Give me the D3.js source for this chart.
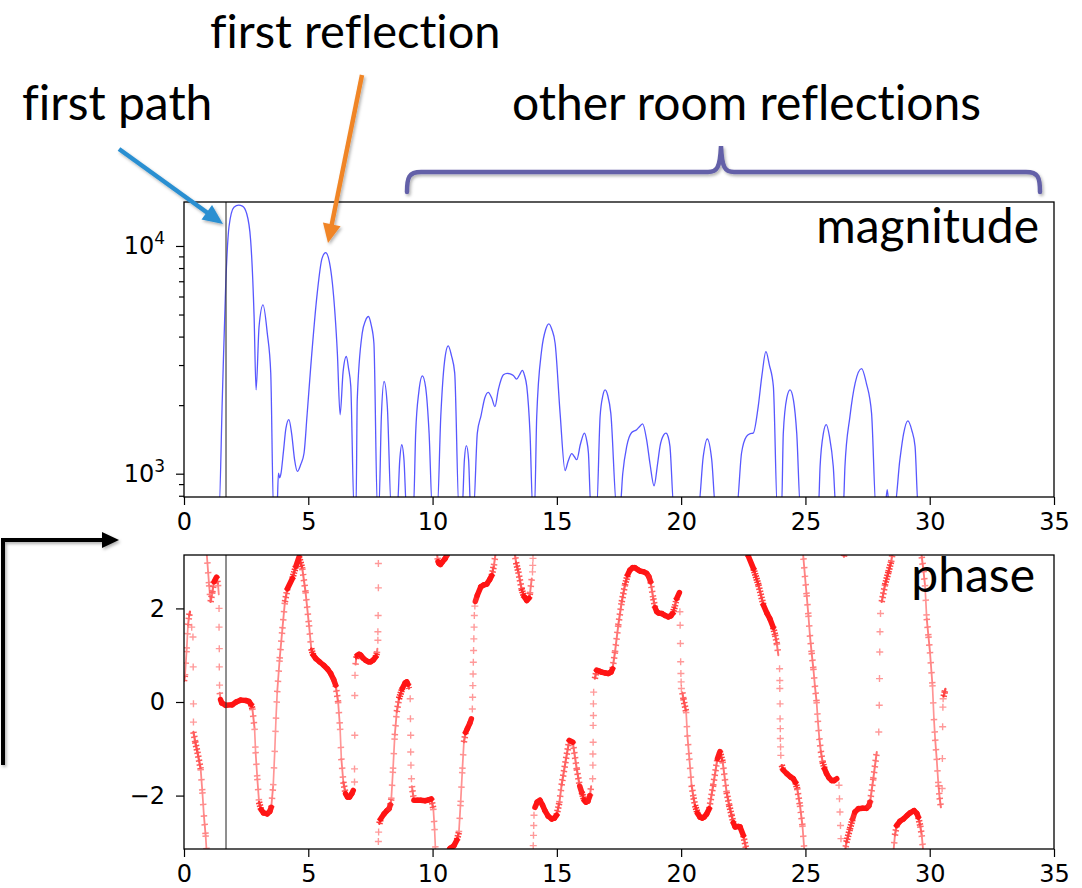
<!DOCTYPE html>
<html>
<head>
<meta charset="utf-8">
<script src="https://cdn.jsdelivr.net/npm/d3@7"></script>
<style>
  html, body { margin: 0; padding: 0; background: #fff; }
  svg { display: block; }
  .note { font-family: Lato, "Open Sans", sans-serif; fill: #000; font-variant-ligatures: none; font-feature-settings: "liga" 0; }
</style>
</head>
<body>
<svg id="chart" width="1082" height="888"></svg>
<script>
// ---- data -------------------------------------------------------------
// time axis ticks (both panels)
const timeTicks = [0, 5, 10, 15, 20, 25, 30, 35];
const magMajorTicks = [1e3, 1e4];
const magMinorTicks = [800, 900, 2000, 3000, 4000, 5000, 6000, 7000, 8000, 9000];
const phaseTicks = [-2, 0, 2];

// delay of the direct path (vertical marker)
const firstPathDelay = 1.69;

// |h(t)| samples: [time, magnitude]; 700 = below the visible floor
const magnitude = [
  [1.35,700],[1.41,700],[1.54,2110],[1.68,6850],[1.81,12150],[2.01,14790],[2.20,15100],[2.35,14970],
  [2.52,13900],[2.68,10630],[2.82,4900],[2.90,2333],[3.02,4430],[3.18,5510],[3.35,4140],[3.49,2770],
  [3.60,700],[3.74,700],[3.80,1005],[3.85,960],[3.90,1000],[4.00,1250],[4.10,1580],[4.22,1726],
  [4.33,1500],[4.45,1150],[4.56,1023],[4.70,1100],[4.83,1233],[4.95,1800],[5.10,2960],[5.36,6210],
  [5.55,8800],[5.70,9350],[5.85,8500],[5.97,6860],[6.17,3380],[6.28,1815],[6.40,2800],[6.53,3270],
  [6.62,2900],[6.71,2417],[6.84,700],[6.92,700],[6.97,2110],[7.17,4140],[7.30,4700],[7.42,4900],
  [7.53,4500],[7.64,3740],[7.78,700],[7.84,700],[7.94,1782],[8.05,2540],[8.18,1972],[8.34,700],
  [8.58,700],[8.68,1150],[8.76,1340],[8.85,1150],[8.95,700],[9.23,700],[9.32,1507],[9.45,2300],
  [9.59,2690],[9.72,2400],[9.86,1507],[9.99,700],[10.19,700],[10.33,1782],[10.48,3100],[10.63,3640],
  [10.76,3300],[10.89,2770],[11.06,700],[11.19,700],[11.28,1150],[11.36,1327],[11.45,1150],[11.53,700],
  [11.65,700],[11.80,1507],[11.95,1800],[12.10,2150],[12.24,2275],[12.38,2150],[12.51,1972],[12.65,2350],
  [12.85,2717],[13.00,2760],[13.12,2747],[13.25,2700],[13.38,2600],[13.50,2720],[13.61,2840],[13.70,2700],
  [13.79,2417],[13.92,1507],[14.03,700],[14.10,700],[14.19,1782],[14.39,3500],[14.55,4300],[14.68,4550],
  [14.80,4300],[14.93,3740],[15.13,1845],[15.33,1033],[15.45,1130],[15.60,1225],[15.70,1190],[15.80,1152],
  [15.95,1350],[16.11,1507],[16.20,1400],[16.27,1233],[16.37,700],[16.60,700],[16.74,1782],[16.85,2200],
  [16.94,2333],[17.05,2200],[17.17,1845],[17.41,700],[17.54,700],[17.65,1000],[17.81,1318],[18.01,1517],
  [18.21,1560],[18.35,1620],[18.45,1656],[18.61,1412],[18.75,1100],[18.91,885],[19.05,1100],[19.15,1318],
  [19.30,1480],[19.39,1507],[19.48,1450],[19.55,1318],[19.71,700],[20.69,700],[20.89,1191],[21.05,1420],
  [21.23,1152],[21.39,700],[22.23,700],[22.43,1233],[22.63,1460],[22.78,1500],[22.90,1507],[23.10,1972],
  [23.25,2700],[23.41,3437],[23.55,3000],[23.71,2417],[23.87,700],[24.04,700],[24.11,1507],[24.25,2150],
  [24.38,2333],[24.52,2100],[24.65,1507],[24.80,700],[25.52,700],[25.59,1077],[25.72,1500],[25.84,1641],
  [25.97,1450],[26.12,1077],[26.23,700],[26.52,700],[26.59,1077],[26.79,1782],[27.00,2500],[27.26,2893],
  [27.45,2500],[27.66,1845],[27.84,700],[28.20,700],[28.29,851],[28.38,700],[28.58,700],[28.80,1152],
  [28.95,1500],[29.12,1706],[29.28,1550],[29.41,1318],[29.54,700],[30.70,700]
];

// phase samples along slowly varying stretches: [time, radians]; null = wrap
const phaseTrack = [
  [0.00,0.45],[0.04,0.57],[0.11,1.14],[0.16,1.64],[0.21,1.85],[0.24,1.93], null,
  [0.38,-0.64],[0.45,-0.85],[0.54,-1.07],[0.67,-1.43],[0.74,-1.93],[0.80,-2.42],[0.87,-2.85],[0.91,-3.2], null,
  [0.91,3.2],[0.97,2.78],[1.01,2.50],[1.07,2.14],[1.14,2.35],[1.21,2.57],[1.31,2.67],[1.37,2.50],[1.40,2.30], null,
  [1.44,0.20],[1.47,0.05],[1.52,-0.02],[1.68,-0.07],[1.94,-0.06],[2.10,0.0],[2.28,0.04],[2.50,0.03],[2.61,0.01],
  [2.70,-0.05],[2.75,-0.14],[2.84,-0.57],[2.88,-1.07],[2.95,-1.64],[3.02,-2.14],[3.10,-2.30],[3.20,-2.37],
  [3.35,-2.39],[3.45,-2.34],[3.51,-2.25],[3.59,-1.78],[3.65,-1.07],[3.70,-0.36],[3.75,0.21],[3.85,0.93],
  [3.96,1.57],[4.06,2.14],[4.16,2.42],[4.36,2.64],[4.50,2.90],[4.63,3.10],[4.76,2.85],[4.89,2.35],[5.03,1.64],
  [5.12,1.14],[5.20,1.00],[5.30,0.93],[5.45,0.86],[5.63,0.78],[5.78,0.70],[5.90,0.61],[6.02,0.48],[6.10,0.36],
  [6.20,0.0],[6.28,-0.57],[6.33,-1.21],[6.41,-1.71],[6.50,-1.96],[6.58,-2.03],[6.66,-2.03],[6.75,-1.96],[6.81,-1.89], null,
  [6.90,0.80],[6.93,0.93],[6.97,1.0],[7.05,1.02],[7.11,1.0],[7.20,0.94],[7.31,0.89],[7.42,0.86],[7.51,0.86],
  [7.62,0.90],[7.71,0.96],[7.76,1.05],[7.78,1.14], null,
  [7.86,-2.60],[7.91,-2.50],[8.05,-2.39],[8.15,-2.33],[8.25,-2.28],[8.30,-2.20],[8.34,-2.07],[8.41,-1.43],
  [8.48,-0.71],[8.56,-0.21],[8.65,0.07],[8.78,0.29],[8.90,0.41],[8.96,0.43],[9.01,0.38],[9.05,0.29], null,
  [9.17,-1.80],[9.19,-1.89],[9.25,-2.10],[9.40,-2.10],[9.52,-2.10],[9.70,-2.11],[9.86,-2.09],[9.95,-2.07],
  [10.03,-2.28],[10.08,-2.71],[10.12,-3.2], null,
  [10.17,3.2],[10.22,3.0],[10.26,2.96],[10.32,2.94],[10.39,2.99],[10.50,3.06],[10.59,3.15],[10.62,3.2], null,
  [10.63,-3.2],[10.70,-3.13],[10.86,-3.07],[10.98,-2.95],[11.06,-2.78],[11.13,-2.14],[11.20,-1.43],[11.26,-0.86],
  [11.33,-0.65],[11.40,-0.57],[11.50,-0.45],[11.56,-0.36], null,
  [11.72,2.15],[11.80,2.28],[11.94,2.46],[12.05,2.50],[12.18,2.52],[12.30,2.62],[12.38,2.70],[12.47,2.92],[12.54,3.2], null,
  [13.30,3.2],[13.36,2.98],[13.45,2.78],[13.58,2.42],[13.68,2.25],[13.79,2.17],[13.88,2.22],[13.92,2.32],[13.99,2.64], null,
  [14.12,-2.25],[14.21,-2.14],[14.32,-2.10],[14.42,-2.20],[14.52,-2.32],[14.65,-2.44],[14.79,-2.50],[14.90,-2.48],
  [14.99,-2.42],[15.10,-2.15],[15.19,-1.78],[15.37,-1.21],[15.50,-0.82],[15.64,-0.86],[15.80,-1.43],[15.92,-1.80],
  [16.00,-1.93],[16.10,-2.10],[16.17,-2.14],[16.25,-2.12],[16.33,-2.00],[16.38,-1.80], null,
  [16.53,0.50],[16.60,0.68],[16.70,0.66],[16.80,0.64],[16.95,0.62],[17.07,0.61],[17.18,0.64],[17.24,0.71],
  [17.34,1.07],[17.47,1.64],[17.61,2.14],[17.74,2.50],[17.85,2.72],[17.94,2.82],[18.05,2.87],[18.14,2.87],
  [18.25,2.83],[18.34,2.80],[18.50,2.78],[18.61,2.75],[18.70,2.68],[18.77,2.57],[18.88,2.21],[18.95,2.02],
  [19.02,1.93],[19.10,1.90],[19.22,1.89],[19.35,1.85],[19.48,1.82],[19.58,1.84],[19.66,1.89],[19.75,2.05],
  [19.82,2.21],[19.93,2.34], null,
  [20.05,0.20],[20.09,0.07],[20.20,-0.21],[20.25,-0.71],[20.33,-1.21],[20.42,-1.78],[20.50,-2.05],[20.56,-2.21],
  [20.66,-2.38],[20.76,-2.46],[20.85,-2.48],[20.92,-2.46],[21.02,-2.40],[21.13,-2.28],[21.29,-1.78],[21.46,-1.21],
  [21.56,-1.06],[21.67,-1.28],[21.83,-1.93],[21.93,-2.20],[22.03,-2.42],[22.10,-2.58],[22.17,-2.67],[22.30,-2.66],
  [22.37,-2.67],[22.50,-2.85],[22.64,-3.2], null,
  [22.66,3.2],[22.70,3.12],[22.91,2.85],[23.11,2.50],[23.31,2.07],[23.45,1.90],[23.57,1.78],[23.70,1.60],
  [23.78,1.43],[23.85,1.25],[23.91,1.00], null,
  [24.05,-1.35],[24.10,-1.45],[24.25,-1.53],[24.40,-1.60],[24.51,-1.64],[24.60,-1.72],[24.67,-1.85],[24.78,-2.21],
  [24.88,-2.64],[24.96,-3.2], null,
  [24.90,3.2],[24.92,3.07],[24.98,2.70],[25.05,2.28],[25.12,1.85],[25.18,1.43],[25.25,1.05],[25.32,0.71],
  [25.38,0.35],[25.45,0.0],[25.50,-0.40],[25.56,-0.78],[25.62,-1.05],[25.69,-1.28],[25.77,-1.43],[25.85,-1.53],
  [25.95,-1.62],[26.06,-1.68],[26.15,-1.68],[26.26,-1.64], null,
  [26.52,3.2],[26.55,3.11],[26.58,3.2], null,
  [26.59,-3.2],[26.65,-3.0],[26.79,-2.71],[26.90,-2.50],[26.99,-2.35],[27.13,-2.28],[27.30,-2.27],[27.46,-2.27],
  [27.55,-2.22],[27.60,-2.14],[27.73,-1.64],[27.87,-1.07], null,
  [28.07,2.14],[28.20,2.50],[28.34,2.78],[28.45,3.0],[28.51,3.2], null,
  [28.54,-3.2],[28.60,-2.85],[28.67,-2.64],[28.80,-2.55],[28.94,-2.50],[29.10,-2.42],[29.21,-2.37],[29.37,-2.32],
  [29.48,-2.38],[29.54,-2.46],[29.62,-2.65],[29.68,-2.85],[29.74,-3.2], null,
  [29.66,3.2],[29.68,3.10],[29.75,2.80],[29.81,2.50],[29.88,1.78],[29.95,1.40],[30.01,1.07],[30.11,0.36],
  [30.17,-0.36],[30.22,-0.80],[30.28,-1.21],[30.35,-1.78],[30.40,-2.05],[30.45,-2.25], null,
  [30.56,0.12],[30.60,0.21],[30.63,0.28]
];

// isolated phase samples across the fast transitions: [time, radians]
const phaseJumps = [
  [0.31,1.60],[0.36,1.39],[0.37,0.75],[0.38,-0.04],[0.38,-0.43],
  [1.41,2.00],[1.41,1.60],[1.42,1.14],[1.42,0.75],[1.43,0.36],
  [6.86,-1.71],[6.86,-1.43],[6.87,-0.71],[6.87,0.14],[6.88,0.57],
  [7.80,1.32],[7.80,1.50],[7.81,1.85],[7.82,2.44],[7.82,2.96],[7.82,-2.98],[7.83,-2.78],
  [9.10,0.07],[9.11,-0.36],[9.12,-0.71],[9.12,-1.07],[9.13,-1.35],[9.15,-1.64],
  [11.60,-0.15],[11.61,0.10],[11.62,0.35],[11.63,0.60],[11.64,0.85],[11.65,1.10],[11.66,1.35],
  [11.67,1.60],[11.68,1.85],[11.70,2.05],
  [14.02,2.78],[14.03,2.92],[14.04,3.07],[14.05,-3.07],[14.06,-2.85],[14.07,-2.64],[14.08,-2.42],
  [16.44,-1.64],[16.45,-1.35],[16.45,-1.11],[16.46,-0.86],[16.46,-0.50],[16.47,-0.29],[16.47,-0.04],[16.48,0.21],
  [19.95,1.93],[19.96,1.64],[19.97,1.25],[19.98,0.86],[19.99,0.61],[20.00,0.43],[20.01,0.29],
  [23.96,0.71],[23.97,0.46],[23.97,0.29],[23.98,-0.04],[23.98,-0.36],[23.99,-0.57],[23.99,-0.78],[24.00,-0.96],[24.01,-1.14],
  [26.35,-1.78],[26.37,-2.07],[26.39,-2.35],[26.41,-2.64],[26.43,-2.92],
  [27.95,-0.64],[27.97,-0.07],[27.98,0.50],[27.99,1.07],[28.00,1.50],[28.02,1.89],
  [30.50,-1.85],[30.51,-1.21],[30.52,-0.53],[30.53,-0.11],[30.54,0.07]
];

// ---- layout -----------------------------------------------------------
const svg = d3.select("#chart");
const plotL = 184, plotR = 1054;
const magTop = 202, magBot = 497;
const phTop = 555, phBot = 849;
const tickFont = "DejaVu Sans, sans-serif";
const tickSize = "24px";

const x = d3.scaleLinear().domain([0, 35]).range([plotL, plotR]);
const yMag = d3.scaleLog().domain([790, 15600]).range([magBot, magTop]);
const yPh = d3.scaleLinear().domain([-Math.PI, Math.PI]).range([phBot, phTop]);

const defs = svg.append("defs");
defs.append("clipPath").attr("id", "clipMag").append("rect")
  .attr("x", plotL).attr("y", magTop).attr("width", plotR - plotL).attr("height", magBot - magTop);
defs.append("clipPath").attr("id", "clipPh").append("rect")
  .attr("x", plotL).attr("y", phTop).attr("width", plotR - plotL).attr("height", phBot - phTop);
const shadow = defs.append("filter").attr("id", "shadow")
  .attr("x", "-20%").attr("y", "-20%").attr("width", "140%").attr("height", "140%");
shadow.append("feDropShadow").attr("dx", 1.5).attr("dy", 2).attr("stdDeviation", 1.5)
  .attr("flood-color", "#000").attr("flood-opacity", 0.3);

function styleAxis(g) {
  g.select(".domain").remove();
  g.selectAll(".tick line").attr("stroke", "#000").attr("stroke-width", 1.2);
  g.selectAll(".tick text")
    .style("font-family", tickFont).style("font-size", tickSize).style("fill", "#000");
}

// ---- magnitude panel --------------------------------------------------
const magG = svg.append("g");
magG.append("path")
  .datum(magnitude)
  .attr("clip-path", "url(#clipMag)")
  .attr("fill", "none")
  .attr("stroke", "#3a3aff")
  .attr("stroke-opacity", 0.85)
  .attr("stroke-width", 1.3)
  .attr("d", d3.line().x(d => x(d[0])).y(d => yMag(d[1])).curve(d3.curveMonotoneX));

magG.append("line")
  .attr("x1", x(firstPathDelay)).attr("x2", x(firstPathDelay))
  .attr("y1", magTop).attr("y2", magBot)
  .attr("stroke", "#333").attr("stroke-width", 1.1);

// x axis
magG.append("g").attr("transform", `translate(0,${magBot})`)
  .call(d3.axisBottom(x).tickValues(timeTicks).tickSize(8).tickPadding(8).tickFormat(d3.format("d")))
  .call(styleAxis);
// y axis: decades + minor ticks
const magY = magG.append("g").attr("transform", `translate(${plotL},0)`)
  .call(d3.axisLeft(yMag).tickValues(magMajorTicks).tickSize(8).tickPadding(11).tickFormat(() => ""))
  .call(styleAxis);
magY.selectAll(".tick text").each(function (d) {
  const t = d3.select(this);
  t.append("tspan").text("10");
  t.append("tspan").attr("dy", -10).style("font-size", "17px").text(Math.round(Math.log10(d)));
});
magG.append("g").attr("transform", `translate(${plotL},0)`)
  .call(d3.axisLeft(yMag).tickValues(magMinorTicks).tickSize(5).tickFormat(() => ""))
  .call(styleAxis);

magG.append("rect")
  .attr("x", plotL).attr("y", magTop).attr("width", plotR - plotL).attr("height", magBot - magTop)
  .attr("fill", "none").attr("stroke", "#000").attr("stroke-width", 1.3);

// ---- phase panel ------------------------------------------------------
const phG = svg.append("g");
const phClip = phG.append("g").attr("clip-path", "url(#clipPh)");

// Samples are evenly spaced in time: where the phase moves slowly they pile
// up into a solid red band, where it moves fast the '+' markers spread out.
const bandColor = d3.interpolateRgb("#ffa8a8", "#ff1414");
const segs = [];
for (let i = 1; i < phaseTrack.length; i++) {
  const a = phaseTrack[i - 1], b = phaseTrack[i];
  if (!a || !b) continue;
  const dx = x(b[0]) - x(a[0]), dy = yPh(b[1]) - yPh(a[1]);
  const r = Math.abs(dx) / Math.hypot(dx, dy);      // sample density along the path
  segs.push({ a, b, r });
}
const solid = segs.filter(s => s.r >= 0.3);
const sparse = segs.filter(s => s.r < 0.3);

// spread-out stretches: vertical arms merge into a thin stroke, horizontal arms repeat
phClip.selectAll("line.stem")
  .data(sparse)
  .join("line")
  .attr("class", "stem")
  .attr("x1", d => x(d.a[0])).attr("y1", d => yPh(d.a[1]))
  .attr("x2", d => x(d.b[0])).attr("y2", d => yPh(d.b[1]))
  .attr("stroke-width", d => 1.5 + 4 * d.r)
  .attr("stroke-linecap", "round")
  .attr("stroke", d => bandColor(Math.min(1, d.r / 0.35)));
phClip.selectAll("line.bars")
  .data(sparse)
  .join("line")
  .attr("class", "bars")
  .attr("x1", d => x(d.a[0])).attr("y1", d => yPh(d.a[1]))
  .attr("x2", d => x(d.b[0])).attr("y2", d => yPh(d.b[1]))
  .attr("stroke-width", 6.5)
  .attr("stroke-dasharray", d => `1.5 ${Math.max(0.3, 0.75 / d.r - 1.5).toFixed(2)}`)
  .attr("stroke", d => bandColor(Math.min(1, d.r / 0.35)));

// piled-up stretches
phClip.selectAll("line.band")
  .data(solid)
  .join("line")
  .attr("class", "band")
  .attr("x1", d => x(d.a[0])).attr("y1", d => yPh(d.a[1]))
  .attr("x2", d => x(d.b[0])).attr("y2", d => yPh(d.b[1]))
  .attr("stroke-width", 5.5)
  .attr("stroke-linecap", "round")
  .attr("stroke", d => bandColor(Math.min(1, d.r / 0.35)));

phClip.selectAll("path.jump")
  .data(phaseJumps)
  .join("path")
  .attr("class", "jump")
  .attr("transform", d => `translate(${x(d[0])},${yPh(d[1])})`)
  .attr("d", "M-3.5,0H3.5M0,-3.5V3.5")
  .attr("stroke", "#ff0000")
  .attr("stroke-opacity", 0.4)
  .attr("stroke-width", 1.4)
  .attr("fill", "none");

phG.append("line")
  .attr("x1", x(firstPathDelay)).attr("x2", x(firstPathDelay))
  .attr("y1", phTop).attr("y2", phBot)
  .attr("stroke", "#333").attr("stroke-width", 1.1);

phG.append("g").attr("transform", `translate(0,${phBot})`)
  .call(d3.axisBottom(x).tickValues(timeTicks).tickSize(8).tickPadding(8).tickFormat(d3.format("d")))
  .call(styleAxis);
phG.append("g").attr("transform", `translate(${plotL},0)`)
  .call(d3.axisLeft(yPh).tickValues(phaseTicks).tickSize(8).tickPadding(11)
    .tickFormat(d => d < 0 ? "\u2212" + Math.abs(d) : String(d)))
  .call(styleAxis);

phG.append("rect")
  .attr("x", plotL).attr("y", phTop).attr("width", plotR - plotL).attr("height", phBot - phTop)
  .attr("fill", "none").attr("stroke", "#000").attr("stroke-width", 1.3);

// ---- annotations ------------------------------------------------------
svg.append("text").attr("class", "note").attr("x", 1039).attr("y", 243)
  .attr("text-anchor", "end").attr("font-size", 48).text("magnitude");
svg.append("text").attr("class", "note").attr("x", 1035).attr("y", 592)
  .attr("text-anchor", "end").attr("font-size", 48).text("phase");
svg.append("text").attr("class", "note").attr("x", 22).attr("y", 120)
  .attr("font-size", 48).text("first path");
svg.append("text").attr("class", "note").attr("x", 210).attr("y", 48)
  .attr("font-size", 47).text("first reflection");
svg.append("text").attr("class", "note").attr("x", 512).attr("y", 120)
  .attr("font-size", 48).text("other room reflections");

function arrow(x1, y1, x2, y2, color, w, headLen, headHalf) {
  const ang = Math.atan2(y2 - y1, x2 - x1);
  const bx = x2 - headLen * Math.cos(ang), by = y2 - headLen * Math.sin(ang);
  const px = -Math.sin(ang) * headHalf, py = Math.cos(ang) * headHalf;
  const g = svg.append("g").attr("filter", "url(#shadow)");
  g.append("line").attr("x1", x1).attr("y1", y1).attr("x2", bx + 2 * Math.cos(ang)).attr("y2", by + 2 * Math.sin(ang))
    .attr("stroke", color).attr("stroke-width", w);
  g.append("path").attr("d", `M${x2},${y2}L${bx + px},${by + py}L${bx - px},${by - py}Z`).attr("fill", color);
  return g;
}
arrow(119, 149, 223, 224, "#2a8fd1", 4.5, 20, 9);
arrow(362, 75, 328, 243, "#f08526", 4.5, 19, 9);

// elbow arrow at the left margin
const elbow = svg.append("g").attr("filter", "url(#shadow)");
elbow.append("path").attr("d", "M3,765V540H105").attr("fill", "none")
  .attr("stroke", "#000").attr("stroke-width", 4);
elbow.append("path").attr("d", "M119,540L102,532L102,548Z").attr("fill", "#000");

// brace over the later reflections
svg.append("path").attr("filter", "url(#shadow)")
  .attr("d", "M407,192C407,177 409,172 421,172L708,172C717,172 720,168 721,146C722,168 725,172 734,172L1026,172C1038,172 1040,177 1040,192")
  .attr("fill", "none").attr("stroke", "#6461a8").attr("stroke-width", 4.5).attr("stroke-linecap", "round");
</script>
</body>
</html>
